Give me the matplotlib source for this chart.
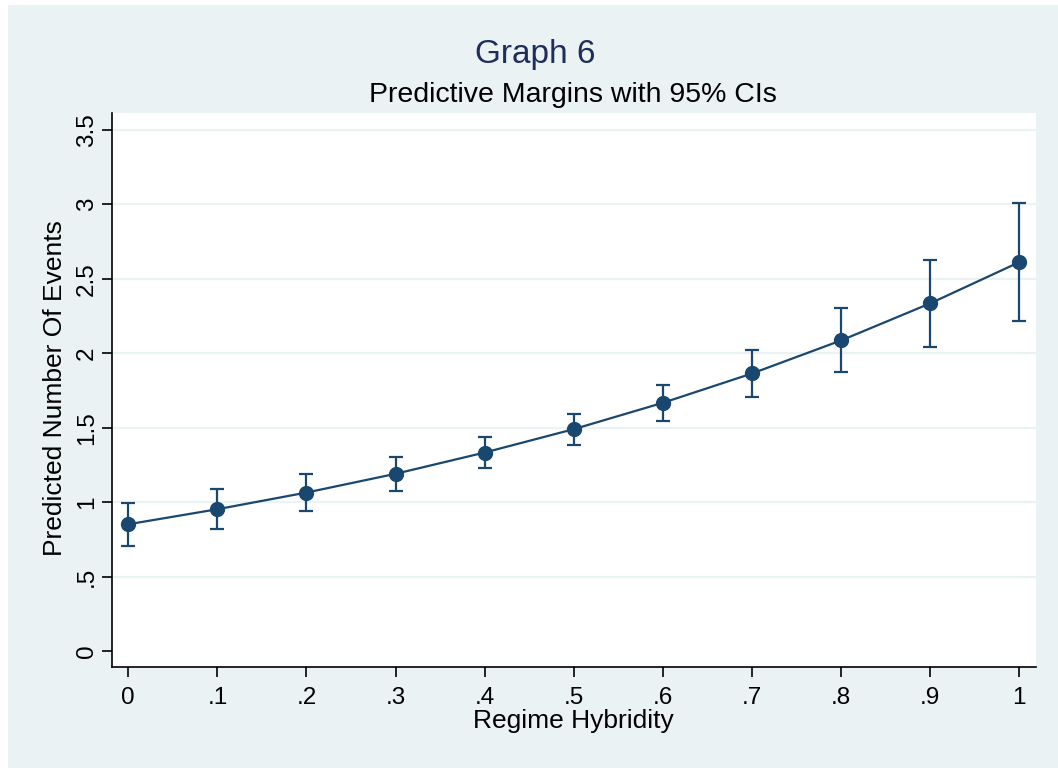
import numpy as np
import matplotlib.pyplot as plt
from matplotlib.patches import Rectangle

plt.rcParams['font.family'] = ['Liberation Sans', 'DejaVu Sans']

hybridity = [0, .1, .2, .3, .4, .5, .6, .7, .8, .9, 1]
margin = [0.851, 0.952, 1.064, 1.190, 1.333, 1.490, 1.667, 1.864, 2.086, 2.335, 2.612]
ci_low = [0.706, 0.816, 0.937, 1.075, 1.228, 1.384, 1.548, 1.707, 1.871, 2.041, 2.216]
ci_high = [0.995, 1.089, 1.192, 1.306, 1.438, 1.595, 1.788, 2.021, 2.303, 2.628, 3.007]
xtick_labels = ['0', '.1', '.2', '.3', '.4', '.5', '.6', '.7', '.8', '.9', '1']
yticks = [0, .5, 1, 1.5, 2, 2.5, 3, 3.5]
ytick_labels = ['0', '.5', '1', '1.5', '2', '2.5', '3', '3.5']

navy = '#1a476f'
bg = '#eaf2f3'
W, H = 1058, 768

fig = plt.figure(figsize=(W / 100, H / 100), dpi=100)
fig.patch.set_facecolor('white')
fig.patches.append(Rectangle((8 / W, 0), 1, 1 - 5 / H, transform=fig.transFigure,
                             facecolor=bg, edgecolor='none', zorder=-10))

ax = fig.add_axes([111.7 / W, 1 - 667 / H, (1036 - 111.7) / W, (667 - 113) / H])
ax.set_facecolor('white')

m = np.array(margin)
err = [m - np.array(ci_low), np.array(ci_high) - m]
ax.errorbar(hybridity, margin, yerr=err, color=navy, ecolor=navy, lw=1.6,
            elinewidth=1.6, capsize=5, capthick=1.6, marker='o', markersize=10, zorder=3)

ax.set_xlim(-0.0186, 1.0187)
ax.set_ylim(-0.108, 3.614)
ax.set_xticks(hybridity)
ax.set_xticklabels(xtick_labels, fontsize=17.5)
ax.set_yticks(yticks)
ax.set_yticklabels(ytick_labels, fontsize=17.5, rotation=90, va='center')
ax.tick_params(axis='both', length=7, width=1.2, colors='black')
ax.tick_params(axis='x', pad=7.5)
ax.tick_params(axis='y', pad=3)

for y in yticks[1:]:
    ax.axhline(y, color=bg, lw=1.6, zorder=1)

for s in ['top', 'right']:
    ax.spines[s].set_visible(False)
for s in ['left', 'bottom']:
    ax.spines[s].set_linewidth(1.2)

ax.set_xlabel('Regime Hybridity', fontsize=19)
ax.xaxis.label.set_va('baseline')
ax.xaxis.set_label_coords(573 / W, 1 - 728 / H, transform=fig.transFigure)
ax.set_ylabel('Predicted Number Of Events', fontsize=19)
ax.yaxis.label.set_va('baseline')
ax.yaxis.set_label_coords(62 / W, 1 - 388 / H, transform=fig.transFigure)

fig.text(535 / W, 1 - 63 / H, 'Graph 6', ha='center', va='baseline', fontsize=24, color='#1e2d5a')
fig.text(573 / W, 1 - 102 / H, 'Predictive Margins with 95% CIs', ha='center', va='baseline', fontsize=20.5)

fig.savefig('out.png', dpi=100)
